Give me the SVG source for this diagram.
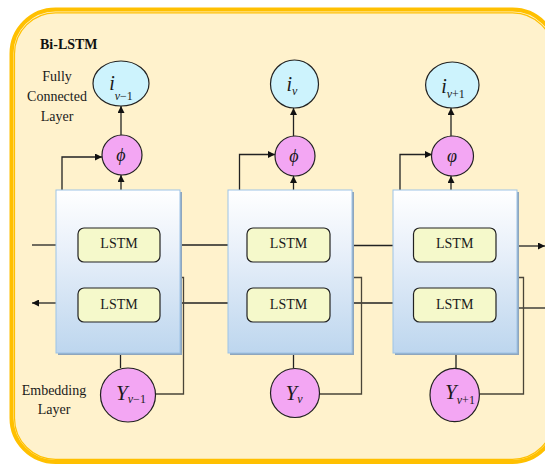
<svg xmlns="http://www.w3.org/2000/svg" width="545" height="464" viewBox="0 0 545 464">
  <style>
    .lbl { font-family: "Liberation Serif", "Times New Roman", serif; font-size: 14px; fill: #1a1a1a; }
    .title { font-family: "Liberation Serif", "Times New Roman", serif; font-size: 14px; font-weight: bold; fill: #111; }
    .math { font-family: "Liberation Serif", "Times New Roman", serif; font-style: italic; fill: #1a1a1a; }
    .up { font-style: normal; }
    .cell { fill: url(#cellGrad); stroke: #9DC3E6; stroke-width: 1; }
    .shadow { fill: #8EA6BE; }
    .lstm { fill: #F5F9CB; stroke: #222; stroke-width: 1.2; }
    .out { fill: #CDF3FD; stroke: #222; stroke-width: 1.2; }
    .pink { fill: #F3A6F3; stroke: #222; stroke-width: 1.2; }
    .wire { fill: none; stroke: #222; stroke-width: 1.3; }
    .wire2 { fill: none; stroke: #4a4538; stroke-width: 1.3; }
    .arr { marker-end: url(#head); }
  </style>
  <defs>
    <linearGradient id="cellGrad" x1="0" y1="0" x2="0" y2="1">
      <stop offset="0" stop-color="#FFFFFF"/>
      <stop offset="0.35" stop-color="#EAF1FA"/>
      <stop offset="1" stop-color="#BDD6EE"/>
    </linearGradient>
    <marker id="head" viewBox="0 0 10 10" refX="10" refY="5" markerWidth="7" markerHeight="7" markerUnits="userSpaceOnUse" orient="auto">
      <path d="M0,0 L10,5 L0,10 Z" fill="#111"/>
    </marker>
  </defs>

  <!-- outer frame -->
  <g id="frame">
    <rect x="11.5" y="9.5" width="545" height="452.5" rx="44" fill="#FFF2CC" stroke="#FFC000" stroke-width="4"/>
    <rect x="14.5" y="12.8" width="539" height="446.5" rx="41" fill="none" stroke="#FFC000" stroke-width="1.2"/>
  </g>

  <!-- side labels -->
  <g id="labels">
    <text class="title" x="40" y="49">Bi-LSTM</text>
    <text class="lbl" x="57" y="81" text-anchor="middle">Fully</text>
    <text class="lbl" x="57" y="101" text-anchor="middle">Connected</text>
    <text class="lbl" x="57" y="120.5" text-anchor="middle">Layer</text>
    <text class="lbl" x="54" y="395" text-anchor="middle">Embedding</text>
    <text class="lbl" x="54" y="414" text-anchor="middle">Layer</text>
  </g>

  <!-- connectors -->
  <g id="connectors">
    <!-- forward chain -->
    <path class="wire" d="M32,245 H56"/>
    <path class="wire" d="M180,245 H228"/>
    <path class="wire" d="M352,245.5 H393"/>
    <path class="wire arr" d="M517,246 H545"/>
    <!-- backward chain -->
    <path class="wire arr" d="M56,303 H32"/>
    <path class="wire" d="M228,303 H180"/>
    <path class="wire" d="M393,303 H352"/>
    <path class="wire" d="M545,308 H517"/>
    <!-- embeddings routed into the right side of each cell -->
    <path class="wire2" d="M155.5,394 H183.5 V277.5 H180"/>
    <path class="wire2" d="M319.5,394 H361.5 V277.5 H352"/>
    <path class="wire2" d="M479.5,394 H523.5 V277.5 H517"/>
    <!-- embeddings into cell bottoms -->
    <path class="wire" d="M120.5,368 V353"/>
    <path class="wire" d="M293.5,368 V353"/>
    <path class="wire" d="M456,368 V353"/>
    <!-- cells up to activation -->
    <path class="wire arr" d="M121,190 V175"/>
    <path class="wire arr" d="M293.5,190 V176"/>
    <path class="wire arr" d="M451,190 V176"/>
    <path class="wire arr" d="M62,190 V157 H102"/>
    <path class="wire arr" d="M239.5,190 V154.5 H275"/>
    <path class="wire arr" d="M400,190 V154.5 H432"/>
    <!-- activation up to outputs -->
    <path class="wire arr" d="M121,135 V106"/>
    <path class="wire arr" d="M293.5,136 V108"/>
    <path class="wire arr" d="M451,136 V108"/>
  </g>

  <!-- time step v-1 -->
  <g id="cell-1">
    <rect class="shadow" x="58" y="192" width="124" height="163"/>
    <rect class="cell" x="56" y="190" width="124" height="163"/>
    <rect class="lstm" x="78" y="228" width="82" height="34" rx="6"/>
    <text class="lbl" x="119" y="248" text-anchor="middle">LSTM</text>
    <rect class="lstm" x="78" y="288" width="82" height="34" rx="6"/>
    <text class="lbl" x="119" y="309" text-anchor="middle">LSTM</text>
  </g>
  <g id="act-1">
    <circle class="pink" cx="122" cy="155" r="20"/>
    <text class="math" x="121" y="161" font-size="18" text-anchor="middle">ϕ</text>
  </g>
  <g id="out-1">
    <ellipse class="out" cx="121" cy="83.5" rx="28" ry="22.5"/>
    <text class="math" x="121" y="90" font-size="20" text-anchor="middle">i<tspan font-size="12" dy="10">v</tspan><tspan class="up" font-size="12">−1</tspan></text>
  </g>
  <g id="emb-1">
    <ellipse class="pink" cx="128" cy="395" rx="27.5" ry="27"/>
    <text class="math" x="131" y="400" font-size="21" text-anchor="middle">Y<tspan font-size="12" dy="3">v</tspan><tspan class="up" font-size="12">−1</tspan></text>
  </g>

  <!-- time step v -->
  <g id="cell-2">
    <rect class="shadow" x="230" y="192" width="124" height="163"/>
    <rect class="cell" x="228" y="190" width="124" height="163"/>
    <rect class="lstm" x="247" y="228" width="83" height="34" rx="6"/>
    <text class="lbl" x="288.5" y="248" text-anchor="middle">LSTM</text>
    <rect class="lstm" x="247" y="288" width="83" height="34" rx="6"/>
    <text class="lbl" x="288.5" y="309" text-anchor="middle">LSTM</text>
  </g>
  <g id="act-2">
    <circle class="pink" cx="295" cy="156" r="20"/>
    <text class="math" x="294" y="162" font-size="18" text-anchor="middle">ϕ</text>
  </g>
  <g id="out-2">
    <circle class="out" cx="294.5" cy="84" r="24"/>
    <text class="math" x="292" y="91" font-size="20" text-anchor="middle">i<tspan font-size="12" dy="3.5">v</tspan></text>
  </g>
  <g id="emb-2">
    <circle class="pink" cx="295" cy="393" r="24.5"/>
    <text class="math" x="294" y="400" font-size="21" text-anchor="middle">Y<tspan font-size="12" dy="3">v</tspan></text>
  </g>

  <!-- time step v+1 -->
  <g id="cell-3">
    <rect class="shadow" x="395" y="192" width="124" height="163"/>
    <rect class="cell" x="393" y="190" width="124" height="163"/>
    <rect class="lstm" x="413.5" y="228" width="82.5" height="34" rx="6"/>
    <text class="lbl" x="454.7" y="248" text-anchor="middle">LSTM</text>
    <rect class="lstm" x="413.5" y="288" width="82.5" height="34" rx="6"/>
    <text class="lbl" x="454.7" y="309" text-anchor="middle">LSTM</text>
  </g>
  <g id="act-3">
    <ellipse class="pink" cx="452.5" cy="156" rx="21" ry="20"/>
    <text class="math" x="452" y="162" font-size="18" text-anchor="middle">φ</text>
  </g>
  <g id="out-3">
    <ellipse class="out" cx="452.3" cy="85" rx="26.7" ry="23"/>
    <text class="math" x="453" y="93" font-size="20" text-anchor="middle">i<tspan font-size="12" dy="4.5">v</tspan><tspan class="up" font-size="12">+1</tspan></text>
  </g>
  <g id="emb-3">
    <ellipse class="pink" cx="454.7" cy="395" rx="24.7" ry="26.7"/>
    <text class="math" x="460" y="399" font-size="21" text-anchor="middle">Y<tspan font-size="12" dy="5">v</tspan><tspan class="up" font-size="12">+1</tspan></text>
  </g>
</svg>
